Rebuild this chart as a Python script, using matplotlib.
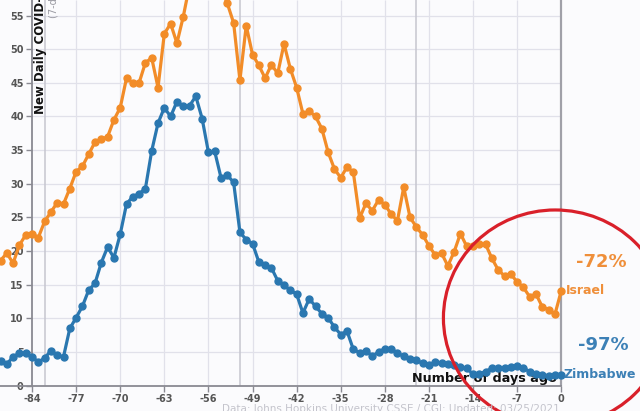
import matplotlib
matplotlib.use('Agg')
import matplotlib.pyplot as plt
from matplotlib.patches import Ellipse

# days before 03/24/2021
days = list(range(-89, 1))

israel = [18.6, 19.7, 18.2, 20.9, 22.4, 22.6, 22.0, 24.4, 25.8, 27.2,
          27.0, 29.3, 31.8, 32.6, 34.4, 36.2, 36.6, 37.0, 39.5, 41.3,
          45.7, 45.0, 45.0, 48.0, 48.7, 44.3, 52.3, 53.8, 50.9, 54.8,
          59.5, 61.5, 63.0, 62.0, 60.5, 59.0, 56.8, 53.9, 45.4, 53.5,
          49.2, 47.6, 45.7, 47.7, 46.4, 50.8, 47.1, 44.3, 40.4, 40.8,
          40.0, 38.2, 34.7, 32.2, 30.9, 32.5, 31.7, 24.9, 27.1, 26.0,
          27.6, 26.9, 25.5, 24.5, 29.5, 25.0, 23.6, 22.4, 20.8, 19.4,
          19.7, 17.8, 19.9, 22.6, 20.7, 20.8, 21.1, 21.0, 18.9, 17.2,
          16.3, 16.6, 15.4, 14.6, 13.2, 13.6, 11.7, 11.3, 10.6, 14.1]

zimbabwe = [3.6, 3.2, 4.3, 4.8, 4.8, 4.3, 3.5, 4.1, 5.2, 4.5,
            4.3, 8.5, 10.1, 11.8, 14.2, 15.2, 18.3, 20.6, 19.0, 22.5,
            27.0, 28.1, 28.5, 29.3, 34.9, 39.0, 41.3, 40.0, 42.2, 41.5,
            41.6, 43.0, 39.7, 34.7, 34.8, 30.9, 31.3, 30.2, 22.8, 21.7,
            21.1, 18.4, 17.9, 17.5, 15.6, 14.9, 14.2, 13.6, 10.8, 12.9,
            11.8, 10.7, 10.1, 8.7, 7.6, 8.1, 5.4, 4.9, 5.2, 4.4,
            5.0, 5.5, 5.5, 4.8, 4.4, 3.9, 3.8, 3.3, 3.1, 3.5,
            3.3, 3.2, 3.1, 2.8, 2.6, 1.7, 1.8, 2.1, 2.6, 2.7,
            2.7, 2.8, 3.0, 2.6, 2.1, 1.8, 1.6, 1.5, 1.6, 1.6]

x_ticks = list(range(-84, 1, 7))
y_ticks = list(range(0, 56, 5))
month_starts = [-82, -51, -23]
changes = ['-72%', '-97%']

orange = '#f28c28'
blue = '#2a77b0'

fig = plt.figure(figsize=(6.4, 4.11), dpi=100)
fig.patch.set_facecolor('#fbfbfd')
ax = fig.add_axes([0, 0, 1, 1])
ax.set_facecolor('#fbfbfd')
ax.set_xlim(-89.08, 12.5)
ax.set_ylim(-3.76, 57.31)

# grid
ax.hlines(y_ticks[1:], -84, 0, color='#e1e1ea', lw=0.9, zorder=1)
ax.vlines(x_ticks[1:-1], 0, 57.31, color='#e1e1ea', lw=0.9, zorder=1)
ax.vlines(month_starts, 0, 57.31, color='#c6c6cf', lw=1.1, zorder=1)
ax.vlines(0, 0, 57.31, color='#a0a0a8', lw=1.6, zorder=1)

for s in ['top', 'right']:
    ax.spines[s].set_visible(False)
ax.spines['left'].set_position(('data', -84))
ax.spines['bottom'].set_position(('data', 0))
ax.spines['bottom'].set_bounds(-89.08, 0)
ax.spines['left'].set_bounds(0, 57.31)
ax.spines['left'].set_color('#8a8a92')
ax.spines['bottom'].set_color('#8a8a92')
ax.spines['left'].set_linewidth(1.3)
ax.spines['bottom'].set_linewidth(1.3)

ax.set_xticks(x_ticks)
ax.set_yticks(y_ticks)
ax.set_xticklabels([str(t) for t in x_ticks])
ax.tick_params(axis='both', colors='#8a8a92', length=4, width=1, labelsize=7,
               labelcolor='#555555', pad=2)
for lab in ax.get_xticklabels() + ax.get_yticklabels():
    lab.set_fontweight('bold')

ax.text(-0.7, 0.5, 'Number of days ago', ha='right', va='baseline',
        fontsize=9.2, fontweight='bold', color='#111111', zorder=2)

ax.plot(days, israel, color=orange, lw=2.3, marker='o', ms=5, zorder=3)
ax.plot(days, zimbabwe, color=blue, lw=2.3, marker='o', ms=5, zorder=3)

ax.text(0.8, israel[-1], 'Israel', color='#ef8f3a', fontsize=9,
        fontweight='bold', va='center', ha='left')
ax.text(0.4, zimbabwe[-1], 'Zimbabwe', color='#3c80b6', fontsize=9,
        fontweight='bold', va='center', ha='left')
ax.text(6.3, 18.4, changes[0], color='#ef8f3a', fontsize=13,
        fontweight='bold', va='center', ha='center')
ax.text(6.6, 6.0, changes[1], color='#3c80b6', fontsize=13,
        fontweight='bold', va='center', ha='center')

ax.text(-82.6, 40.3, 'New Daily COVID-19 Cases per Million people', rotation=90,
        ha='center', va='bottom', fontsize=8.5, fontweight='bold', color='#111111')
ax.text(-80.5, 54.6, '(7-day rolling average)', rotation=90,
        ha='center', va='bottom', fontsize=7, color='#9a9aa2')

fig.text(560 / 640, 1 - 404 / 411,
         'Data: Johns Hopkins University CSSE / CGI: Updated: 03/25/2021',
         ha='right', va='top', fontsize=7.5, color='#c4c4cc')

ax.add_patch(Ellipse((-0.95, 10.06), 35.5, 32.1, fill=False,
                     edgecolor='#d9202a', lw=2.3, zorder=5, clip_on=False))

fig.savefig('out.png', dpi=100, facecolor=fig.get_facecolor())
